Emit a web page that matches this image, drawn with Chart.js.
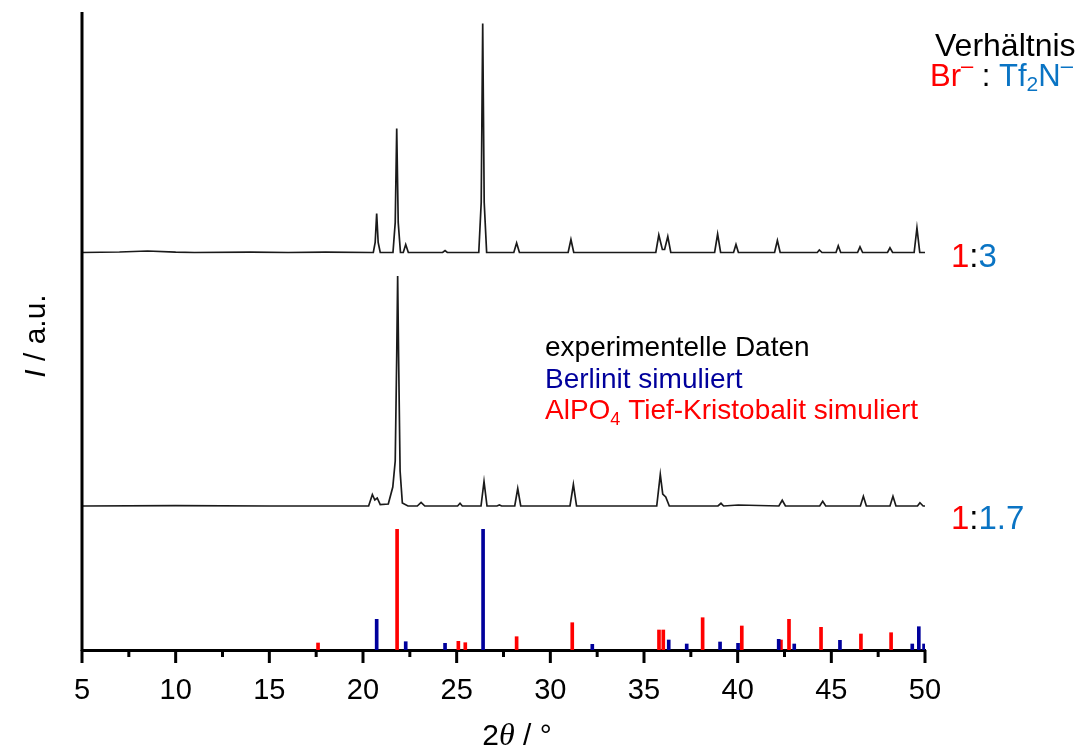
<!DOCTYPE html>
<html lang="de">
<head>
<meta charset="utf-8">
<title>XRD Br- : Tf2N-</title>
<script src="https://cdn.jsdelivr.net/npm/chart.js@4.4.1/dist/chart.umd.min.js"></script>
<style>
  html, body { margin: 0; padding: 0; background: #fff; }
  #wrap { width: 1078px; height: 749px; position: relative; }
</style>
</head>
<body>
<div id="wrap"><canvas id="xrd"></canvas></div>
<script>
// x axis ticks (2theta / degree)
const xTicks = [5, 10, 15, 20, 25, 30, 35, 40, 45, 50];

// 1:3 pattern (intensity above its own baseline)
const ratio13Theta = [5, 7, 8.5, 10, 11, 14, 16, 18, 20.4,
  20.55, 20.65, 20.73, 20.81, 20.92, 21.6, 21.72, 21.8, 21.88, 22.0,
  22.15, 22.28, 22.42, 24.25, 24.38, 24.5,
  26.18, 26.31, 26.39, 26.47, 26.6, 28.05, 28.2, 28.35,
  30.95, 31.1, 31.25, 35.63, 35.79, 35.98, 36.1, 36.27, 36.43,
  38.77, 38.93, 39.09, 39.78, 39.91, 40.04, 41.97, 42.12, 42.27,
  44.25, 44.36, 44.5, 45.25, 45.37, 45.5, 46.4, 46.53, 46.67,
  48.0, 48.13, 48.27, 49.42, 49.57, 49.72, 50];
const ratio13Int = [0, 0.5, 1.5, 0.3, 0, 0.3, 0, 0.3, 0,
  0, 10, 39, 10, 0, 0, 30, 124, 30, 0,
  0, 8, 0, 0, 2, 0,
  0, 50, 229, 50, 0, 0, 9.5, 0,
  0, 13, 0, 0, 17.5, 3, 3, 16, 0,
  0, 18.5, 0, 0, 8, 0, 0, 12, 0,
  0, 2.5, 0, 0, 6.7, 0, 0, 5.7, 0,
  0, 4.7, 0, 0, 24.5, 0, 0];

// 1:1.7 pattern
const ratio17Theta = [5, 10, 15, 20.3,
  20.5, 20.63, 20.76, 20.92,
  21.35, 21.59, 21.72, 21.8, 21.85, 21.9, 21.98, 22.1, 22.4,
  22.9, 23.1, 23.3, 25.05, 25.18, 25.3,
  26.3, 26.46, 26.62, 27.15, 27.28, 27.4,
  28.1, 28.26, 28.42, 31.05, 31.23, 31.4,
  35.68, 35.87, 36.0, 36.16, 36.35,
  38.95, 39.11, 39.25, 40.03,
  42.2, 42.38, 42.55, 44.38, 44.54, 44.7,
  46.55, 46.71, 46.87, 48.13, 48.29, 48.45,
  49.6, 49.73, 49.9, 50];
const ratio17Int = [0, 0.3, 0, 0,
  11.5, 6, 8, 1.5,
  2, 19, 45, 150, 230, 150, 35, 3, 0,
  0, 3.5, 0, 0, 2.7, 0,
  0, 24.5, 0, 0, 1, 0,
  0, 17.5, 0, 0, 21.5, 0,
  0, 31.5, 12, 9, 0,
  0, 2.7, 0, 1,
  0, 5.7, 0, 0, 4.7, 0,
  0, 9.7, 0, 0, 9.7, 0,
  0, 3.3, 0, 0];

// simulated reflections
const berlinitTheta = [20.73, 22.28, 24.38, 26.41, 32.24, 36.32, 37.28, 39.06,
  40.02, 42.19, 43.02, 45.46, 49.32, 49.67, 49.95];
const berlinitInt = [30.7, 8.3, 6.7, 120.7, 5.7, 10, 6, 8,
  6.7, 10.7, 6, 9.7, 6, 23.3, 6];
const cristobalitTheta = [17.6, 21.82, 25.09, 25.46, 28.2, 31.17, 35.8, 36.03,
  38.13, 40.22, 42.31, 42.74, 44.45, 46.58, 48.19];
const cristobalitInt = [7, 120.7, 8.7, 7.3, 13.3, 27.3, 20, 20,
  32.3, 24, 10, 30.7, 22.7, 16, 17.3];

// vertical stacking offsets of the two measured patterns
const offset13 = 397.5;
const offset17 = 144;

const RED = '#ff0000';
const BLUE_SIM = '#00009c';
const BLUE_TXT = '#0a74c4';
const FONT = '"Liberation Sans", Arial, sans-serif';
const SERIF = '"Liberation Serif", "Times New Roman", serif';

const toPoints = (xs, ys, base = 0) => xs.map((x, i) => ({ x, y: ys[i] + base }));

const textPlugin = {
  id: 'xrdText',
  afterDraw(chart) {
    const { ctx, chartArea: area, scales } = chart;
    const xs = scales.x;
    ctx.save();

    // y axis line
    ctx.strokeStyle = '#000';
    ctx.lineWidth = 3;
    ctx.beginPath();
    ctx.moveTo(area.left, area.top + 2);
    ctx.lineTo(area.left, area.bottom + 1);
    ctx.stroke();

    // x ticks, major and minor
    for (let v = 5; v <= 50; v += 2.5) {
      const px = xs.getPixelForValue(v);
      const len = v % 5 === 0 ? 13 : 7;
      ctx.beginPath();
      ctx.moveTo(px, area.bottom);
      ctx.lineTo(px, area.bottom + len);
      ctx.stroke();
    }

    const run = (parts, x, y, size) => {
      let cx = x;
      parts.forEach(p => {
        const s = p.size || size;
        ctx.font = `${p.italic ? 'italic ' : ''}${s}px ${p.family || FONT}`;
        ctx.fillStyle = p.color || '#000';
        ctx.fillText(p.t, cx, y + (p.dy || 0));
        cx += ctx.measureText(p.t).width;
      });
      return cx;
    };
    const measure = (parts, size) => parts.reduce((sum, p) => {
      ctx.font = `${p.italic ? 'italic ' : ''}${p.size || size}px ${p.family || FONT}`;
      return sum + ctx.measureText(p.t).width;
    }, 0);
    ctx.textBaseline = 'alphabetic';
    ctx.textAlign = 'left';

    // ratio header
    run([{ t: 'Verhältnis' }], 935, 56, 32);
    run([
      { t: 'Br', color: RED },
      { t: '\u2013', color: RED, size: 22, dy: -13 },
      { t: ' : ' },
      { t: 'Tf', color: BLUE_TXT },
      { t: '2', color: BLUE_TXT, size: 21, dy: 5 },
      { t: 'N', color: BLUE_TXT },
      { t: '\u2013', color: BLUE_TXT, size: 22, dy: -13 }
    ], 930, 86, 31);

    run([{ t: '1', color: RED }, { t: ':' }, { t: '3', color: BLUE_TXT }], 951, 267, 33);
    run([{ t: '1', color: RED }, { t: ':' }, { t: '1.7', color: BLUE_TXT }], 951, 529, 33);

    // legend
    run([{ t: 'experimentelle Daten' }], 545, 356, 28);
    run([{ t: 'Berlinit simuliert', color: BLUE_SIM }], 545, 388, 28);
    run([
      { t: 'AlPO', color: RED },
      { t: '4', color: RED, size: 18, dy: 6 },
      { t: ' Tief-Kristobalit simuliert', color: RED }
    ], 545, 419, 28);

    // x title
    const xTitle = [{ t: '2' }, { t: 'θ', italic: true, family: SERIF, size: 32 }, { t: ' / °' }];
    run(xTitle, 517 - measure(xTitle, 30) / 2, 745, 30);

    // y title
    ctx.translate(45, 336);
    ctx.rotate(-Math.PI / 2);
    const yTitle = [{ t: 'I', italic: true }, { t: ' / a.u.' }];
    run(yTitle, -measure(yTitle, 30) / 2, 0, 30);

    ctx.restore();
  }
};

new Chart(document.getElementById('xrd'), {
  type: 'bar',
  data: {
    datasets: [
      {
        type: 'bar',
        label: 'Berlinit simuliert',
        data: toPoints(berlinitTheta, berlinitInt),
        backgroundColor: BLUE_SIM,
        barThickness: 3,
        grouped: false,
        borderWidth: 0
      },
      {
        type: 'bar',
        label: 'AlPO4 Tief-Kristobalit simuliert',
        data: toPoints(cristobalitTheta, cristobalitInt),
        backgroundColor: RED,
        barThickness: 3,
        grouped: false,
        borderWidth: 0
      },
      {
        type: 'line',
        label: '1:1.7',
        data: toPoints(ratio17Theta, ratio17Int, offset17),
        borderColor: '#1a1a1a',
        borderWidth: 1.7,
        pointRadius: 0,
        tension: 0
      },
      {
        type: 'line',
        label: '1:3',
        data: toPoints(ratio13Theta, ratio13Int, offset13),
        borderColor: '#1a1a1a',
        borderWidth: 1.7,
        pointRadius: 0,
        tension: 0
      }
    ]
  },
  options: {
    responsive: true,
    maintainAspectRatio: false,
    animation: false,
    layout: { padding: { left: 82, right: 153, top: 10, bottom: 0 } },
    plugins: { legend: { display: false }, tooltip: { enabled: false } },
    scales: {
      x: {
        type: 'linear',
        min: 5,
        max: 50,
        offset: false,
        afterBuildTicks: scale => { scale.ticks = xTicks.map(value => ({ value })); },
        afterFit: scale => { scale.height = 99; },
        ticks: { color: '#000', font: { family: FONT, size: 29 }, padding: 11, maxRotation: 0 },
        grid: { display: false, drawTicks: true, tickLength: 13 },
        border: { display: true, color: '#000', width: 3 }
      },
      y: {
        display: false,
        min: 0,
        max: 640
      }
    }
  },
  plugins: [textPlugin]
});
</script>
</body>
</html>
